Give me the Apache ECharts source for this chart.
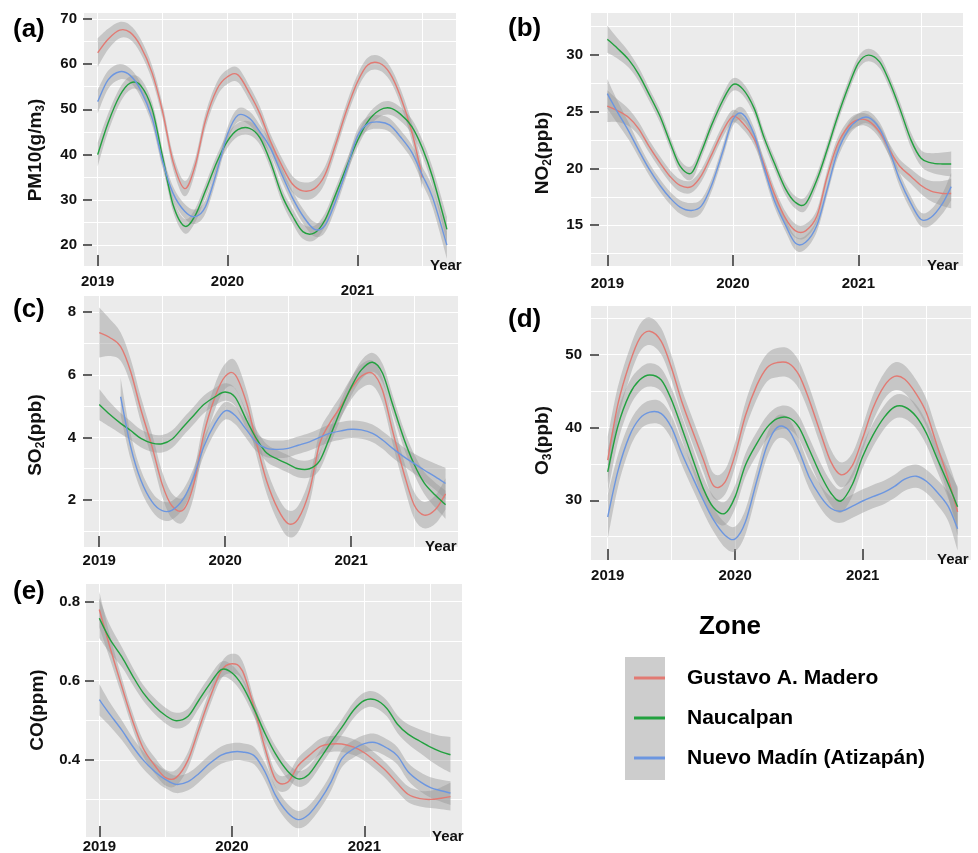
<!DOCTYPE html>
<html>
<head>
<meta charset="utf-8">
<script src="https://cdn.jsdelivr.net/npm/echarts@6/dist/echarts.min.js"></script>
<style>
html,body{margin:0;padding:0;background:#ffffff;}
#chart{width:978px;height:853px;}
</style>
</head>
<body>
<div id="chart"></div>
<script>
// ---------------- DATA ----------------
const zoneNames = ['Gustavo A. Madero', 'Naucalpan', 'Nuevo Madín (Atizapán)'];
const yearTicks = [2019, 2020, 2021];

// (a) PM10
const xA = [2019.00,2019.08,2019.17,2019.25,2019.33,2019.42,2019.50,2019.58,2019.67,2019.75,2019.83,2019.92,
            2020.00,2020.08,2020.17,2020.25,2020.33,2020.42,2020.50,2020.58,2020.67,2020.75,2020.83,2020.92,
            2021.00,2021.08,2021.17,2021.25,2021.33,2021.42,2021.50,2021.58,2021.69];
const pm10Red   = [62.5,65.5,67.5,67,64,58,49.5,38.5,32.5,37.5,47.5,54.5,57.2,57.6,53.5,49,43,37.5,33.5,32,32.5,35.5,42,50,56,59.8,60.2,58,53,45,35];
const pm10Green = [40,47,53,55.8,55.3,50,39.5,29,24.2,26.5,32,38.5,43,45.5,45.8,43.7,38.5,31,26.5,23,22.7,25.5,31,37.5,43,47.3,49.8,50.3,49,46.2,41.5,35,23.5];
const pm10Blue  = [51.7,56.5,58.3,57.5,54.3,48,38.5,31.5,27.5,26.3,28.5,36.5,44.5,48.7,48,45,41.5,35.5,30.5,26.5,23.5,24.3,29.5,37,44,46.8,47.2,46.5,44,40.5,35.5,30.5,20];
const pm10RedSe   = [3.2,2.3,1.8,1.6,1.6,1.6,1.6,1.6,1.7,1.6,1.6,1.6,1.6,1.6,1.6,1.6,1.6,1.7,1.8,1.9,1.9,1.8,1.6,1.6,1.6,1.6,1.6,1.6,1.7,2.0,2.6];
const pm10GreenSe = [2.6,2.0,1.7,1.5,1.5,1.5,1.5,1.5,1.6,1.5,1.5,1.5,1.5,1.5,1.5,1.5,1.5,1.5,1.6,1.6,1.6,1.5,1.5,1.5,1.5,1.5,1.5,1.5,1.5,1.6,1.8,2.1,2.8];
const pm10BlueSe  = [2.6,2.0,1.7,1.5,1.5,1.5,1.5,1.5,1.6,1.6,1.5,1.5,1.5,1.5,1.5,1.5,1.5,1.5,1.5,1.6,1.6,1.5,1.5,1.5,1.5,1.5,1.5,1.5,1.5,1.6,1.8,2.2,3.0];
const pm10Ticks = [20,30,40,50,60,70];

// (b) NO2
const xB = [2019.00,2019.08,2019.17,2019.25,2019.33,2019.42,2019.50,2019.58,2019.67,2019.75,2019.83,2019.92,
            2020.00,2020.08,2020.17,2020.25,2020.33,2020.42,2020.50,2020.58,2020.67,2020.75,2020.83,2020.92,
            2021.00,2021.08,2021.17,2021.25,2021.33,2021.42,2021.50,2021.58,2021.67,2021.74];
const no2Red   = [25.5,25.1,24.5,23.5,22.0,20.5,19.3,18.5,18.4,19.4,21.2,23.3,24.6,24.0,22.6,20.3,17.8,15.6,14.5,14.5,15.8,19.2,22.0,23.7,24.3,24.2,23.2,21.6,20.2,19.3,18.5,18.0,17.8,17.8];
const no2Green = [31.4,30.6,29.6,28.3,26.6,24.6,22.3,20.2,19.6,21.5,23.8,26.0,27.4,27.0,25.3,22.7,20.5,18.2,17.0,16.9,19.0,21.6,24.4,27.2,29.3,30.0,29.4,27.6,25.3,22.5,20.9,20.5,20.4,20.4];
const no2Blue  = [26.6,25.0,23.3,21.6,20.0,18.5,17.4,16.6,16.3,16.7,18.5,21.5,24.3,24.8,23.0,20.0,17.2,15.0,13.4,13.5,15.0,18.1,21.3,23.4,24.3,24.5,23.5,21.5,19.0,16.9,15.5,15.7,16.9,18.4];
const no2RedSe   = [1.4,1.0,0.75,0.6,0.55,0.55,0.55,0.55,0.55,0.55,0.55,0.55,0.55,0.55,0.55,0.55,0.55,0.6,0.6,0.6,0.55,0.55,0.55,0.55,0.55,0.55,0.55,0.55,0.6,0.65,0.75,0.9,1.1,1.3];
const no2GreenSe = [1.2,0.9,0.7,0.6,0.55,0.55,0.55,0.55,0.6,0.55,0.55,0.55,0.55,0.55,0.55,0.55,0.55,0.55,0.55,0.6,0.55,0.55,0.55,0.55,0.55,0.55,0.55,0.55,0.6,0.65,0.7,0.85,1.0,1.1];
const no2BlueSe  = [1.3,1.0,0.75,0.6,0.55,0.55,0.55,0.6,0.65,0.6,0.55,0.55,0.55,0.55,0.55,0.55,0.55,0.55,0.6,0.6,0.55,0.55,0.55,0.55,0.55,0.55,0.55,0.55,0.6,0.6,0.6,0.7,0.9,1.2];
const no2Ticks = [15,20,25,30];

// (c) SO2
const xC = [2019.00,2019.08,2019.17,2019.25,2019.33,2019.42,2019.50,2019.58,2019.67,2019.75,2019.83,2019.92,
            2020.00,2020.08,2020.17,2020.25,2020.33,2020.42,2020.50,2020.58,2020.67,2020.75,2020.83,2020.92,
            2021.00,2021.08,2021.17,2021.25,2021.33,2021.42,2021.50,2021.58,2021.67,2021.75];
const so2Red   = [7.35,7.2,6.9,6.1,4.9,3.7,2.5,1.8,1.7,2.5,4.1,5.3,5.95,6.0,5.1,3.8,2.6,1.7,1.25,1.4,2.3,3.8,4.45,5.0,5.55,5.95,6.05,5.5,4.2,2.85,1.85,1.52,1.7,2.2];
const so2Green = [5.05,4.75,4.45,4.22,3.97,3.82,3.8,3.95,4.35,4.7,5.05,5.3,5.45,5.28,4.55,3.95,3.5,3.3,3.15,3.0,3.0,3.25,4.0,4.9,5.6,6.15,6.4,6.05,5.05,3.95,3.15,2.55,2.15,1.85];
const so2Blue  = [null,null,5.3,3.7,2.64,1.94,1.66,1.68,2.05,2.74,3.7,4.45,4.85,4.7,4.24,3.83,3.65,3.62,3.65,3.75,3.86,4.0,4.13,4.21,4.26,4.24,4.13,3.92,3.65,3.38,3.17,2.96,2.74,2.53];
const so2RedSe   = [0.8,0.6,0.45,0.4,0.4,0.4,0.4,0.4,0.4,0.4,0.4,0.4,0.4,0.45,0.4,0.4,0.4,0.4,0.42,0.42,0.4,0.38,0.35,0.35,0.35,0.38,0.4,0.4,0.4,0.4,0.42,0.42,0.45,0.5];
const so2GreenSe = [0.5,0.4,0.33,0.3,0.28,0.28,0.28,0.28,0.28,0.28,0.28,0.28,0.28,0.28,0.28,0.28,0.28,0.28,0.28,0.28,0.28,0.28,0.28,0.28,0.28,0.3,0.3,0.3,0.3,0.3,0.32,0.35,0.4,0.45];
const so2BlueSe  = [null,null,0.6,0.4,0.33,0.3,0.3,0.3,0.3,0.28,0.28,0.28,0.28,0.28,0.28,0.28,0.28,0.28,0.28,0.28,0.28,0.28,0.28,0.28,0.28,0.28,0.28,0.28,0.3,0.3,0.32,0.36,0.42,0.5];
const so2Ticks = [2,4,6,8];

// (d) O3
const xD = [2019.00,2019.08,2019.17,2019.25,2019.33,2019.42,2019.50,2019.58,2019.67,2019.75,2019.83,2019.92,
            2020.00,2020.08,2020.17,2020.25,2020.33,2020.42,2020.50,2020.58,2020.67,2020.75,2020.83,2020.92,
            2021.00,2021.08,2021.17,2021.25,2021.33,2021.42,2021.50,2021.58,2021.67,2021.745];
const o3Red   = [35.5,43.2,48.7,52.2,53.2,51.8,48.2,43.6,39.3,35.6,32.0,32.5,36.3,41.6,45.8,48.2,48.9,48.8,47.2,43.8,39.2,35.3,33.5,34.8,38.5,42.6,45.7,47.0,46.6,44.6,42,37.7,33,28.4];
const o3Green = [33.9,40.2,44.5,46.5,47.2,46.5,43.8,40,35.5,31.6,29,28.2,30.5,34.8,37.8,40,41.2,41.3,40,37,33.5,31,29.9,32.2,36,38.9,41.4,42.8,42.8,41.5,39.2,35.9,32.3,29.1];
const o3Blue  = [27.7,34,38.8,41.2,42.1,41.9,40,36.5,33,30,27.3,25.2,24.7,27,32.7,37.5,40,39.6,36.8,33.2,30.5,28.9,28.5,29.2,29.9,30.5,31.1,31.9,32.9,33.3,32.6,31.2,29.2,26.1];
const o3RedSe   = [3.2,2.4,2.0,1.9,1.9,1.8,1.7,1.7,1.7,1.7,1.7,1.7,1.7,1.8,1.9,1.9,2.0,2.0,1.9,1.8,1.7,1.7,1.7,1.7,1.7,1.8,1.8,1.9,1.9,1.9,1.9,2.0,2.4,3.2];
const o3GreenSe = [3.0,2.2,1.8,1.6,1.6,1.6,1.6,1.6,1.6,1.6,1.6,1.6,1.6,1.6,1.6,1.6,1.6,1.6,1.6,1.6,1.6,1.6,1.6,1.6,1.6,1.6,1.6,1.6,1.6,1.6,1.6,1.7,2.0,2.8];
const o3BlueSe  = [3.0,2.2,1.8,1.6,1.6,1.6,1.6,1.6,1.6,1.6,1.6,1.7,1.7,1.7,1.6,1.6,1.6,1.6,1.6,1.6,1.6,1.6,1.6,1.6,1.6,1.6,1.6,1.6,1.6,1.6,1.6,1.7,2.0,3.0];
const o3Ticks = [30,40,50];

// (e) CO
const xE = [2019.00,2019.08,2019.17,2019.25,2019.33,2019.42,2019.50,2019.58,2019.67,2019.75,2019.83,2019.92,
            2020.00,2020.08,2020.17,2020.25,2020.33,2020.42,2020.50,2020.58,2020.67,2020.75,2020.83,2020.92,
            2021.00,2021.08,2021.17,2021.25,2021.33,2021.42,2021.50,2021.58,2021.65];
const coRed   = [0.78,0.685,0.585,0.50,0.43,0.385,0.355,0.355,0.40,0.477,0.553,0.625,0.643,0.625,0.53,0.43,0.35,0.343,0.385,0.41,0.434,0.44,0.44,0.432,0.418,0.397,0.37,0.34,0.313,0.302,0.30,0.303,0.307];
const coGreen = [0.758,0.705,0.66,0.613,0.57,0.535,0.512,0.499,0.51,0.55,0.59,0.628,0.62,0.587,0.527,0.467,0.415,0.372,0.352,0.363,0.405,0.445,0.482,0.526,0.55,0.552,0.53,0.49,0.465,0.447,0.432,0.42,0.413];
const coBlue  = [0.552,0.515,0.475,0.435,0.40,0.37,0.35,0.338,0.345,0.365,0.39,0.412,0.42,0.42,0.41,0.37,0.31,0.267,0.249,0.262,0.30,0.345,0.403,0.428,0.441,0.444,0.43,0.41,0.37,0.345,0.33,0.322,0.316];
const coRedSe   = [0.045,0.03,0.022,0.02,0.02,0.02,0.02,0.02,0.02,0.02,0.02,0.02,0.025,0.025,0.02,0.02,0.02,0.02,0.02,0.02,0.02,0.02,0.02,0.02,0.02,0.02,0.02,0.02,0.02,0.02,0.022,0.028,0.035];
const coGreenSe = [0.05,0.035,0.025,0.022,0.02,0.02,0.02,0.02,0.02,0.02,0.02,0.02,0.02,0.02,0.02,0.02,0.02,0.02,0.02,0.02,0.02,0.02,0.02,0.02,0.02,0.02,0.02,0.022,0.025,0.03,0.035,0.04,0.045];
const coBlueSe  = [0.04,0.03,0.025,0.022,0.022,0.022,0.022,0.022,0.022,0.022,0.022,0.022,0.022,0.022,0.022,0.022,0.022,0.022,0.022,0.022,0.022,0.022,0.022,0.022,0.022,0.022,0.022,0.022,0.022,0.024,0.026,0.028,0.03];
const coTicks = [0.4,0.6,0.8];

// ---------------- STYLE / LAYOUT ----------------
const FONT = '"Liberation Sans", Arial, Helvetica, sans-serif';
const zoneColors = ['#E27A73', '#22A13F', '#6C96E0'];
const PANEL_BG = '#EBEBEB';
const BAND_FILL = 'rgba(150,150,150,0.44)';
const TXT = '#111111';

const panels = [
  {tag:'(a)', xs:xA, vals:[pm10Red,pm10Green,pm10Blue], ses:[pm10RedSe,pm10GreenSe,pm10BlueSe], yTicks:pm10Ticks,
   yName:'{t|PM10(g/m}{s|3}{t|)}', grid:{left:83,top:12,width:373,height:254},
   xRange:[2018.887,2021.76], yRange:[15.4,71.5], yStep:5, lowYear:2021,
   tagPos:[13,30], xLabelMargin:8, yLabelMargin:6, yearGap:-26, yearDrop:16, nameShift:11},
  {tag:'(b)', xs:xB, vals:[no2Red,no2Green,no2Blue], ses:[no2RedSe,no2GreenSe,no2BlueSe], yTicks:no2Ticks,
   yName:'{t|NO}{s|2}{t|(ppb)}', grid:{left:590,top:12,width:373,height:254},
   xRange:[2018.862,2021.834], yRange:[11.4,33.8], yStep:2.5, lowYear:null,
   tagPos:[508,29], xLabelMargin:10, yLabelMargin:7, yearGap:-36, yearDrop:12, nameShift:14},
  {tag:'(c)', xs:xC, vals:[so2Red,so2Green,so2Blue], ses:[so2RedSe,so2GreenSe,so2BlueSe], yTicks:so2Ticks,
   yName:'{t|SO}{s|2}{t|(ppb)}', grid:{left:83,top:295,width:375,height:252},
   xRange:[2018.871,2021.849], yRange:[0.5,8.55], yStep:1, lowYear:null,
   tagPos:[13,310], xLabelMargin:6, yLabelMargin:7, yearGap:-33, yearDrop:13, nameShift:14},
  {tag:'(d)', xs:xD, vals:[o3Red,o3Green,o3Blue], ses:[o3RedSe,o3GreenSe,o3BlueSe], yTicks:o3Ticks,
   yName:'{t|O}{s|3}{t|(ppb)}', grid:{left:590,top:305,width:381,height:255},
   xRange:[2018.861,2021.85], yRange:[21.8,56.8], yStep:5, lowYear:null,
   tagPos:[508,320], xLabelMargin:8, yLabelMargin:8, yearGap:-34, yearDrop:7, nameShift:8},
  {tag:'(e)', xs:xE, vals:[coRed,coGreen,coBlue], ses:[coRedSe,coGreenSe,coBlueSe], yTicks:coTicks,
   yName:'{t|CO(ppm)}', grid:{left:85,top:583,width:377,height:254},
   xRange:[2018.892,2021.737], yRange:[0.205,0.847], yStep:0.1, lowYear:null,
   tagPos:[13,592], xLabelMargin:2, yLabelMargin:5, yearGap:-30, yearDrop:9, nameShift:0}
];

function matchTick(v, ticks) {
  for (const t of ticks) {
    if (Math.abs(v - t) < 1e-6 * Math.max(1, Math.abs(t))) return String(t);
  }
  return '';
}

// Catmull-Rom spline through pixel points (rendering of smooth curves)
function segPath(pts, startCmd) {
  let d = startCmd + pts[0][0].toFixed(2) + ' ' + pts[0][1].toFixed(2);
  const k = 1 / 6;
  for (let i = 0; i < pts.length - 1; i++) {
    const p0 = pts[i - 1] || pts[i];
    const p1 = pts[i];
    const p2 = pts[i + 1];
    const p3 = pts[i + 2] || pts[i + 1];
    const c1x = p1[0] + (p2[0] - p0[0]) * k, c1y = p1[1] + (p2[1] - p0[1]) * k;
    const c2x = p2[0] - (p3[0] - p1[0]) * k, c2y = p2[1] - (p3[1] - p1[1]) * k;
    d += ' C' + c1x.toFixed(2) + ' ' + c1y.toFixed(2) + ' ' + c2x.toFixed(2) + ' ' + c2y.toFixed(2) + ' ' + p2[0].toFixed(2) + ' ' + p2[1].toFixed(2);
  }
  return d;
}

const grids = [], xAxes = [], yAxes = [], series = [], graphics = [];
const labelFont = {fontSize:15, fontWeight:'bold', color:TXT, fontFamily:FONT};

panels.forEach((P, i) => {
  grids.push(Object.assign({show:true, backgroundColor:PANEL_BG, borderWidth:0, containLabel:false, outerBoundsMode:'none'}, P.grid));

  xAxes.push({
    type:'value', gridIndex:i, min:P.xRange[0], max:P.xRange[1],
    minInterval:0.5, maxInterval:0.5, splitNumber:6,
    axisLine:{show:false}, axisTick:{show:false},
    splitLine:{show:true, lineStyle:{color:'#ffffff', width:1}},
    axisLabel:Object.assign({show:true, margin:P.xLabelMargin,
      formatter:(v) => {
        const s = matchTick(v, yearTicks);
        if (s && P.lowYear != null && Number(s) === P.lowYear) return '{low|' + s + '}';
        return s;
      },
      rich:{low:Object.assign({padding:[9,0,0,0]}, labelFont)}}, labelFont),
    name:'Year', nameLocation:'end', nameGap:P.yearGap,
    nameTextStyle:Object.assign({padding:[2 * P.yearDrop, 0, 0, 0]}, labelFont)
  });
  xAxes.push({
    type:'value', gridIndex:i, min:P.xRange[0], max:P.xRange[1], position:'bottom',
    axisLine:{show:false}, axisLabel:{show:false}, splitLine:{show:false},
    axisTick:{show:true, inside:true, length:11, customValues:yearTicks, lineStyle:{color:'#3a3a3a', width:1.6}}
  });

  yAxes.push({
    type:'value', gridIndex:i, min:P.yRange[0], max:P.yRange[1],
    minInterval:P.yStep, maxInterval:P.yStep, splitNumber:10,
    axisLine:{show:false}, axisTick:{show:false},
    splitLine:{show:true, lineStyle:{color:'#ffffff', width:1}},
    axisLabel:Object.assign({show:true, margin:P.yLabelMargin, formatter:(v) => matchTick(v, P.yTicks)}, labelFont),
    name:P.yName, nameLocation:'middle', nameRotate:90, nameGap:36,
    nameTextStyle:{padding:[0, 2 * P.nameShift, 0, 0], rich:{
      t:{fontSize:19, fontWeight:'bold', color:TXT, fontFamily:FONT, lineHeight:22},
      s:{fontSize:12, fontWeight:'bold', color:TXT, fontFamily:FONT, lineHeight:12, verticalAlign:'bottom'}
    }}
  });
  yAxes.push({
    type:'value', gridIndex:i, min:P.yRange[0], max:P.yRange[1], position:'left',
    axisLine:{show:false}, axisLabel:{show:false}, splitLine:{show:false},
    axisTick:{show:true, inside:true, length:9, customValues:P.yTicks, lineStyle:{color:'#3a3a3a', width:1.6}}
  });

  P.vals.forEach((vals, z) => {
    const ses = P.ses[z];
    const rows = [];
    for (let k = 0; k < vals.length; k++) {
      if (vals[k] == null) continue;
      rows.push([P.xs[k], vals[k], ses[k]]);
    }
    // confidence band
    series.push({
      type:'custom', name:'band', xAxisIndex:2 * i, yAxisIndex:2 * i, z:2, silent:true, clip:true,
      data:rows,
      renderItem:function (params, api) {
        if (params.dataIndex !== 0) return null;
        const up = rows.map(b => api.coord([b[0], b[1] + b[2]]));
        const lo = rows.map(b => api.coord([b[0], b[1] - b[2]])).reverse();
        return {type:'path', shape:{pathData:segPath(up, 'M') + ' ' + segPath(lo, 'L') + ' Z'},
                style:{fill:BAND_FILL, stroke:'none'}};
      }
    });
    // smoothed trend line
    series.push({
      type:'custom', name:zoneNames[z], xAxisIndex:2 * i, yAxisIndex:2 * i, z:3, silent:true, clip:true,
      data:rows, itemStyle:{color:zoneColors[z]},
      renderItem:function (params, api) {
        if (params.dataIndex !== 0) return null;
        const pts = rows.map(b => api.coord([b[0], b[1]]));
        return {type:'path', shape:{pathData:segPath(pts, 'M')},
                style:{fill:'none', stroke:zoneColors[z], lineWidth:1.4}};
      }
    });
  });

  graphics.push({type:'text', x:P.tagPos[0], y:P.tagPos[1],
    style:{text:P.tag, font:'bold 26px ' + FONT, fill:'#000', verticalAlign:'middle', textVerticalAlign:'middle'}});
});

// legend decorations
graphics.push({type:'rect', z:0, shape:{x:625, y:657, width:40, height:123}, style:{fill:'#cdcdcd'}});
graphics.push({type:'text', x:730, y:627,
  style:{text:'Zone', font:'bold 26px ' + FONT, fill:'#000', align:'center', textAlign:'center', verticalAlign:'middle', textVerticalAlign:'middle'}});

const chart = echarts.init(document.getElementById('chart'));
chart.setOption({
  animation:false,
  backgroundColor:'#ffffff',
  grid:grids,
  xAxis:xAxes,
  yAxis:yAxes,
  series:series,
  graphic:graphics,
  legend:{
    data:zoneNames, orient:'vertical', left:629, top:659, z:10,
    icon:'rect', itemWidth:31, itemHeight:3, itemGap:12, selectedMode:false,
    textStyle:{fontSize:21, fontWeight:'bold', color:'#000', fontFamily:FONT, lineHeight:20, padding:[8,0,0,17]}
  }
});
</script>
</body>
</html>
